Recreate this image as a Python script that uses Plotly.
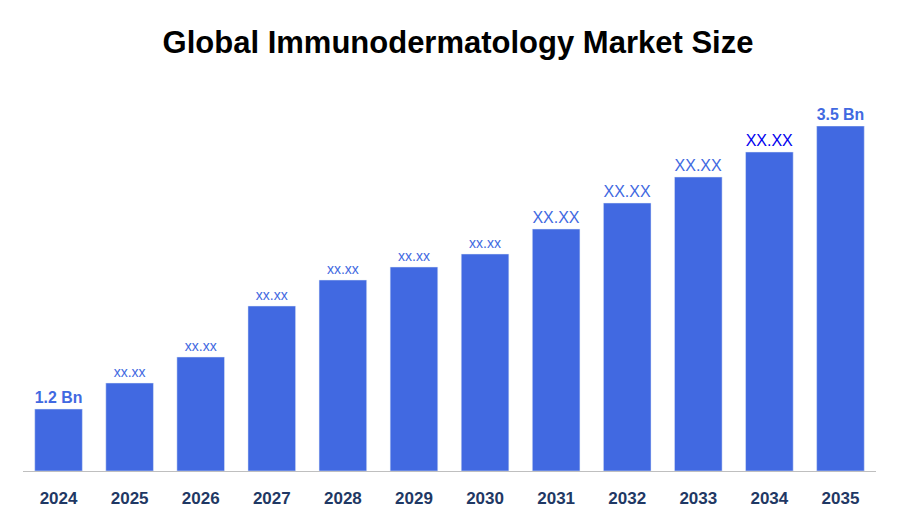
import plotly.graph_objects as go

years = ["2024","2025","2026","2027","2028","2029","2030","2031","2032","2033","2034","2035"]
values = [62, 88, 114, 165, 191, 204, 217, 242, 268, 294, 319, 345]
labels = ["<b>1.2 Bn</b>","xx.xx","xx.xx","xx.xx","xx.xx","xx.xx","xx.xx","XX.XX","XX.XX","XX.XX","XX.XX","<b>3.5 Bn</b>"]
label_sizes = [20,14,14,14,14,14,14,16,16,16,16,20]
label_colors = ["#4169E1"]*10 + ["#0000EE", "#4169E1"]

fig = go.Figure(go.Bar(
    x=years, y=values, marker_color="#4169E1",
    text=labels, textposition="outside", cliponaxis=False,
    textfont=dict(size=label_sizes, color=label_colors, family="Liberation Sans"),
))
fig.update_layout(
    width=900, height=525, plot_bgcolor="white", paper_bgcolor="white",
    title=dict(text="<b>Global Immunodermatology Market Size</b>", x=0.5, y=0.935,
               yanchor="middle", xanchor="center",
               font=dict(size=31, color="black", family="Liberation Sans")),
    margin=dict(l=15, r=32, t=118, b=62, autoexpand=False),
    bargap=0.33, showlegend=False,
)
fig.update_xaxes(showline=True, linecolor="#BFBFBF", linewidth=1, ticklen=12, ticks="outside", tickcolor="white",
                 tickfont=dict(size=17, color="#1F3864", family="Liberation Sans", weight="bold"))
fig.update_yaxes(visible=False, range=[0, 345], showgrid=False)
fig.write_html("out.html")
